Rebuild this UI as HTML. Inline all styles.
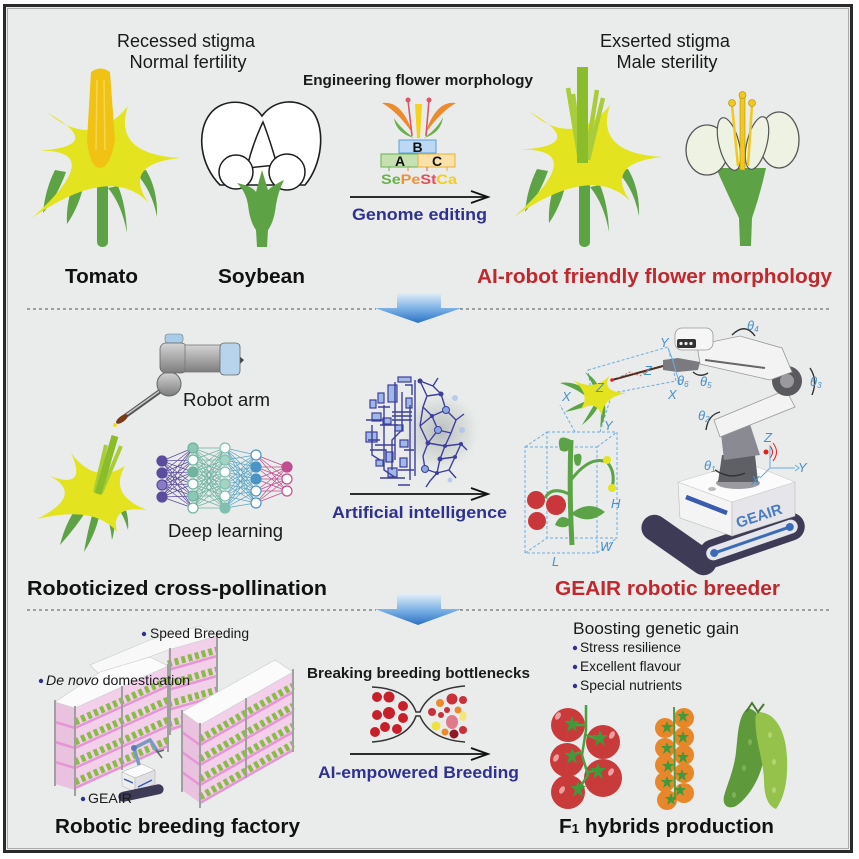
<!DOCTYPE html>
<html><head><meta charset="utf-8">
<style>html,body{margin:0;padding:0;background:#fff}svg{display:block}text{font-family:"Liberation Sans",Arial,sans-serif}</style>
</head><body>
<svg width="859" height="859" viewBox="0 0 859 859" xmlns="http://www.w3.org/2000/svg">
<defs>
<linearGradient id="ba" x1="0" y1="0" x2="0" y2="1"><stop offset="0" stop-color="#e2eef9"/><stop offset="0.5" stop-color="#7fb3e6"/><stop offset="1" stop-color="#2a72c4"/></linearGradient>
<linearGradient id="gr" x1="0" y1="0" x2="0" y2="1"><stop offset="0" stop-color="#d4d4d4"/><stop offset="0.5" stop-color="#a9a9a9"/><stop offset="1" stop-color="#7d7d7d"/></linearGradient>
<radialGradient id="blur"><stop offset="0" stop-color="#8c9696" stop-opacity="0.55"/><stop offset="0.7" stop-color="#b9c0c0" stop-opacity="0.3"/><stop offset="1" stop-color="#d0d6d6" stop-opacity="0"/></radialGradient>
<path id="st" d="M0,-8 L2,-3 L8,-3 L3,1 L5,8 L0,4 L-5,8 L-3,1 L-8,-3 L-2,-3 Z"/>
<path id="sts" d="M0,-6 L1.5,-2 L6,-2 L2.5,1 L4,6 L0,3 L-4,6 L-2.5,1 L-6,-2 L-1.5,-2 Z"/>
</defs>
<rect x="0" y="0" width="859" height="859" fill="#fff"/>
<rect x="4.5" y="5.5" width="847" height="846" fill="#e9ecea" stroke="#2a2a2a" stroke-width="3"/>
<rect x="7.5" y="8.5" width="841" height="840" fill="none" stroke="#9a9a9a" stroke-width="0.8"/>

<!-- ===== TOP SECTION ===== -->
<text x="186" y="47" font-size="18" text-anchor="middle" fill="#1a1a1a" textLength="138" lengthAdjust="spacingAndGlyphs">Recessed stigma</text>
<text x="188" y="68" font-size="18" text-anchor="middle" fill="#1a1a1a" textLength="117" lengthAdjust="spacingAndGlyphs">Normal fertility</text>
<text x="665" y="47" font-size="18" text-anchor="middle" fill="#1a1a1a" textLength="130" lengthAdjust="spacingAndGlyphs">Exserted stigma</text>
<text x="667" y="68" font-size="18" text-anchor="middle" fill="#1a1a1a" textLength="101" lengthAdjust="spacingAndGlyphs">Male sterility</text>
<text x="303" y="85" font-size="15" font-weight="bold" fill="#1a1a1a" textLength="230" lengthAdjust="spacingAndGlyphs">Engineering flower morphology</text>

<!-- left tomato flower -->
<g>
<g fill="#5ea246">
<path d="M55,170 Q45,190 43,213 Q58,195 66,172 Z"/>
<path d="M72,188 Q66,205 67,224 Q78,208 83,188 Z"/>
<path d="M108,188 Q122,205 127,233 Q126,205 118,186 Z"/>
<path d="M135,172 Q152,190 157,217 Q158,190 146,170 Z"/>
<rect x="97" y="180" width="11" height="67" rx="5"/>
</g>
<path d="M48,113 Q92,150 128,106 Q112,154 180,158 Q122,164 148,202 Q110,164 32,218 Q112,146 31,151 Q110,148 48,113 Z" fill="#e3e41f"/>
</g>
<path d="M91,72 Q100,65 110,72 L115,140 Q110,168 100,168 Q90,168 87,140 Z" fill="#f0c214"/>
<path d="M97,80 L96,150 M104,80 L105,150" stroke="#f6d550" stroke-width="1.5"/>

<!-- left soybean -->
<path d="M262,116 C250,98 222,98 210,114 C196,132 200,165 220,185 L305,185 C322,165 326,130 313,112 C300,98 275,98 262,116 Z" fill="#fff" stroke="#1e1e1e" stroke-width="1.6"/>
<path d="M263,122 Q252,145 247,168 L277,165 Q270,140 263,122 Z" fill="#fff" stroke="#1e1e1e" stroke-width="1.5"/>
<circle cx="236" cy="172" r="17" fill="#fff" stroke="#1e1e1e" stroke-width="1.5"/>
<circle cx="287" cy="172" r="18" fill="#fff" stroke="#1e1e1e" stroke-width="1.5"/>
<path d="M237,183 Q252,186 256,192 L262,170 L268,190 Q275,184 284,180 Q278,192 276,205 Q274,222 268,230 L267,247 L257,247 L256,230 Q250,222 248,205 Q246,192 237,183 Z" fill="#5ea246"/>

<text x="65" y="283" font-size="20" font-weight="bold" fill="#111" textLength="73" lengthAdjust="spacingAndGlyphs">Tomato</text>
<text x="218" y="283" font-size="20" font-weight="bold" fill="#111" textLength="87" lengthAdjust="spacingAndGlyphs">Soybean</text>

<!-- ABC model -->
<path d="M382,103 Q402,100 413,134 Q398,112 382,103 Z" fill="#ec8a2c"/>
<path d="M456,103 Q436,100 425,134 Q440,112 456,103 Z" fill="#ec8a2c"/>
<path d="M394,118 Q396,133 414,138 Q400,128 394,118 Z" fill="#6ab04c"/>
<path d="M443,117 Q441,133 424,138 Q438,128 443,117 Z" fill="#6ab04c"/>
<path d="M408,100 L412,136 M429,100 L426,136" stroke="#e05566" stroke-width="1.6"/>
<circle cx="408" cy="100" r="2.5" fill="#e05566"/><circle cx="429" cy="100" r="2.5" fill="#e05566"/>
<path d="M415,104 L422,104 L420,138 L417,138 Z" fill="#f5d21e"/>
<rect x="399" y="140" width="37" height="13" fill="#bcd8f2" stroke="#5aa0d8"/>
<rect x="381" y="154" width="37" height="13" fill="#c6e0b2" stroke="#6ab04c"/>
<rect x="418" y="154" width="37" height="13" fill="#f8e2aa" stroke="#e8b040"/>
<text x="417.5" y="152" font-size="14" font-weight="bold" text-anchor="middle" fill="#111">B</text>
<text x="400" y="166" font-size="14" font-weight="bold" text-anchor="middle" fill="#111">A</text>
<text x="437" y="166" font-size="14" font-weight="bold" text-anchor="middle" fill="#111">C</text>
<path d="M389,167 L389,171" stroke="#6ab04c"/><path d="M408,167 L408,171" stroke="#ec8a2c"/><path d="M427,167 L427,171" stroke="#e05566"/><path d="M447,167 L447,171" stroke="#e8b040"/>
<text x="381" y="184" font-size="14" font-weight="bold" textLength="76" lengthAdjust="spacingAndGlyphs"><tspan fill="#6ab04c">Se</tspan><tspan fill="#f0903a">Pe</tspan><tspan fill="#e84a5a">St</tspan><tspan fill="#f2cc20">Ca</tspan></text>
<path d="M350,197 L487,197" stroke="#111" stroke-width="1.8"/>
<path d="M471,191 L488,197 L471,203" fill="none" stroke="#111" stroke-width="1.8"/>
<text x="352" y="220" font-size="17" font-weight="bold" fill="#2e3192" textLength="135" lengthAdjust="spacingAndGlyphs">Genome editing</text>

<!-- right tomato flower -->
<g transform="translate(482,-1)">
<g fill="#5ea246">
<path d="M55,170 Q45,190 43,213 Q58,195 66,172 Z"/>
<path d="M72,188 Q66,205 67,224 Q78,208 83,188 Z"/>
<path d="M108,188 Q122,205 127,233 Q126,205 118,186 Z"/>
<path d="M135,172 Q152,190 157,217 Q158,190 146,170 Z"/>
<rect x="97" y="180" width="11" height="68" rx="5"/>
</g>
<path d="M48,113 Q92,150 128,106 Q112,154 180,158 Q122,164 148,202 Q110,164 32,218 Q112,146 31,151 Q110,148 48,113 Z" fill="#e3e41f"/>
</g>
<g stroke="#a9cd3a" stroke-width="4.5" stroke-linecap="butt">
<path d="M568,88 L580,160"/><path d="M573,94 L582,160"/><path d="M597,90 L586,160"/><path d="M603,98 L588,160"/>
</g>
<rect x="577" y="67" width="11" height="96" fill="#8bbd2a"/>

<!-- right soybean -->
<path d="M716,168 L766,168 Q760,195 752,218 L751,246 L740,246 L739,218 Q728,195 716,168 Z" fill="#5ea246"/>
<ellipse cx="707" cy="150" rx="21" ry="25" fill="#eef2e2" stroke="#555" stroke-width="1.3"/>
<ellipse cx="779" cy="140" rx="20" ry="28" fill="#eef2e2" stroke="#555" stroke-width="1.3"/>
<ellipse cx="729" cy="144" rx="10" ry="27" transform="rotate(-14 729 144)" fill="#eef2e2" stroke="#555" stroke-width="1.2"/>
<ellipse cx="757" cy="143" rx="10" ry="27" transform="rotate(14 757 143)" fill="#eef2e2" stroke="#555" stroke-width="1.2"/>
<path d="M738,166 L732,105 M748,166 L752,105" stroke="#f2c81e" stroke-width="2.5"/>
<circle cx="732" cy="103" r="3.5" fill="#f2c81e" stroke="#a08810" stroke-width="0.6"/>
<circle cx="752" cy="103" r="3.5" fill="#f2c81e" stroke="#a08810" stroke-width="0.6"/>
<rect x="740" y="96" width="5" height="74" fill="#f2c81e" stroke="#a08810" stroke-width="0.5"/>
<circle cx="742.5" cy="95" r="3.5" fill="#f2c81e" stroke="#a08810" stroke-width="0.6"/>

<text x="477" y="283" font-size="20" font-weight="bold" fill="#c1272d" textLength="355" lengthAdjust="spacingAndGlyphs">AI-robot friendly flower morphology</text>

<!-- separators & blue arrows -->
<path d="M27,309 L376,309 M460,309 L830,309" stroke="#555" stroke-width="1" stroke-dasharray="3 3"/>
<path d="M397,293 L441,293 L441,308 L462,308 L418,323 L375,308 L397,308 Z" fill="url(#ba)"/>
<path d="M27,610 L376,610 M460,610 L830,610" stroke="#555" stroke-width="1" stroke-dasharray="3 3"/>
<path d="M397,594 L441,594 L441,609 L462,609 L418,625 L375,609 L397,609 Z" fill="url(#ba)"/>

<!-- ===== MIDDLE SECTION ===== -->
<line x1="170" y1="384" x2="124" y2="417" stroke="#555" stroke-width="4.5" stroke-linecap="round"/>
<line x1="168" y1="385" x2="126" y2="415" stroke="#c8c8c8" stroke-width="1.5"/>
<ellipse cx="122" cy="419" rx="7" ry="3" transform="rotate(-36 122 419)" fill="#7a3a1a"/>
<circle cx="115" cy="425" r="2" fill="#f0e020"/>
<circle cx="169" cy="384" r="12" fill="url(#gr)" stroke="#666"/>
<rect x="165" y="334" width="18" height="9" rx="3" fill="#a9cce8" stroke="#777" stroke-width="0.6"/>
<rect x="160" y="343" width="27" height="30" rx="6" fill="url(#gr)" stroke="#666" stroke-width="0.8"/>
<rect x="185" y="345" width="37" height="27" fill="url(#gr)" stroke="#777" stroke-width="0.8"/>
<path d="M238,355 L244,360 L238,366 Z" fill="#444"/>
<rect x="220" y="343" width="20" height="32" rx="4" fill="#b8d4ec" stroke="#666" stroke-width="0.8"/>
<text x="183" y="406" font-size="18" fill="#1a1a1a" textLength="87" lengthAdjust="spacingAndGlyphs">Robot arm</text>

<!-- middle small flower -->
<g fill="#5ea246">
<path d="M82,500 Q66,520 60,545 Q78,525 90,505 Z"/>
<path d="M95,505 Q88,528 84,552 Q98,530 101,506 Z"/>
<path d="M102,502 Q110,520 112,540 Q118,520 110,500 Z"/>
<path d="M108,498 Q122,508 128,530 Q130,508 116,496 Z"/>
</g>
<path d="M71,453 Q95,485 125,466 Q108,495 147,510 Q110,505 117,532 Q95,505 37,519 Q85,495 50,476 Q88,490 71,453 Z" fill="#e3e41f"/>
<g stroke-linecap="butt">
<path d="M106,445 L95,492" stroke="#a9cd3a" stroke-width="4"/>
<path d="M121,446 L101,493" stroke="#a9cd3a" stroke-width="4"/>
<path d="M115,436 L98,494" stroke="#8bbd2a" stroke-width="7"/>
</g>

<!-- neural net -->
<g fill="none" stroke-width="0.7">
<path stroke="#5b4c9e" d="M162 461L193 448M162 461L193 460M162 461L193 472M162 461L193 484M162 461L193 496M162 461L193 508M162 473L193 448M162 473L193 460M162 473L193 472M162 473L193 484M162 473L193 496M162 473L193 508M162 485L193 448M162 485L193 460M162 485L193 472M162 485L193 484M162 485L193 496M162 485L193 508M162 497L193 448M162 497L193 460M162 497L193 472M162 497L193 484M162 497L193 496M162 497L193 508"/>
<path stroke="#6fb3a0" d="M193 448L225 448M193 448L225 460M193 448L225 472M193 448L225 484M193 448L225 496M193 448L225 508M193 460L225 448M193 460L225 460M193 460L225 472M193 460L225 484M193 460L225 496M193 460L225 508M193 472L225 448M193 472L225 460M193 472L225 472M193 472L225 484M193 472L225 496M193 472L225 508M193 484L225 448M193 484L225 460M193 484L225 472M193 484L225 484M193 484L225 496M193 484L225 508M193 496L225 448M193 496L225 460M193 496L225 472M193 496L225 484M193 496L225 496M193 496L225 508M193 508L225 448M193 508L225 460M193 508L225 472M193 508L225 484M193 508L225 496M193 508L225 508"/>
<path stroke="#5aa5c5" d="M225 448L256 455M225 448L256 467M225 448L256 479M225 448L256 491M225 448L256 503M225 460L256 455M225 460L256 467M225 460L256 479M225 460L256 491M225 460L256 503M225 472L256 455M225 472L256 467M225 472L256 479M225 472L256 491M225 472L256 503M225 484L256 455M225 484L256 467M225 484L256 479M225 484L256 491M225 484L256 503M225 496L256 455M225 496L256 467M225 496L256 479M225 496L256 491M225 496L256 503M225 508L256 455M225 508L256 467M225 508L256 479M225 508L256 491M225 508L256 503"/>
<path stroke="#c04f8f" d="M256 455L287 467M256 455L287 479M256 455L287 491M256 467L287 467M256 467L287 479M256 467L287 491M256 479L287 467M256 479L287 479M256 479L287 491M256 491L287 467M256 491L287 479M256 491L287 491M256 503L287 467M256 503L287 479M256 503L287 491"/>
</g>
<g stroke-width="1.2">
<g fill="#5b4c9e" stroke="#5b4c9e"><circle cx="162" cy="461" r="5"/><circle cx="162" cy="473" r="5"/><circle cx="162" cy="485" r="5" fill="#8a7cc4"/><circle cx="162" cy="497" r="5"/></g>
<g fill="#fff" stroke="#6fb3a0"><circle cx="193" cy="448" r="5" fill="#8cc8b5"/><circle cx="193" cy="460" r="5"/><circle cx="193" cy="472" r="5" fill="#6fb3a0"/><circle cx="193" cy="484" r="5"/><circle cx="193" cy="496" r="5" fill="#8cc8b5"/><circle cx="193" cy="508" r="5"/></g>
<g fill="#fff" stroke="#7fc0b0"><circle cx="225" cy="448" r="5"/><circle cx="225" cy="460" r="5" fill="#a3d3c3"/><circle cx="225" cy="472" r="5"/><circle cx="225" cy="484" r="5" fill="#a3d3c3"/><circle cx="225" cy="496" r="5"/><circle cx="225" cy="508" r="5" fill="#7fc0b0"/></g>
<g fill="#fff" stroke="#4a95c5"><circle cx="256" cy="455" r="5"/><circle cx="256" cy="467" r="5" fill="#4a95c5"/><circle cx="256" cy="479" r="5" fill="#4a95c5"/><circle cx="256" cy="491" r="5"/><circle cx="256" cy="503" r="5"/></g>
<g fill="#fff" stroke="#c04f8f"><circle cx="287" cy="467" r="5" fill="#c04f8f"/><circle cx="287" cy="479" r="5"/><circle cx="287" cy="491" r="5"/></g>
</g>
<text x="168" y="537" font-size="18" fill="#1a1a1a" textLength="115" lengthAdjust="spacingAndGlyphs">Deep learning</text>

<!-- AI brain -->
<circle cx="440" cy="432" r="40" fill="url(#blur)"/>
<g fill="#9fb8e6" stroke="#3d3f9c" stroke-width="1.2">
<rect x="398" y="377" width="13" height="5"/><rect x="388" y="385" width="9" height="17"/><rect x="378" y="393" width="6" height="10"/>
<rect x="372" y="413" width="9" height="8"/><rect x="366" y="432" width="11" height="10"/><rect x="383" y="418" width="8" height="6"/>
<rect x="400" y="440" width="8" height="7"/><rect x="386" y="452" width="7" height="10"/><rect x="400" y="458" width="7" height="9"/>
<rect x="388" y="468" width="9" height="9"/><rect x="376" y="460" width="7" height="6"/><rect x="406" y="398" width="6" height="10"/>
<rect x="370" y="400" width="6" height="8"/><rect x="395" y="425" width="8" height="6"/>
</g>
<g fill="none" stroke="#3d3f9c" stroke-width="1.4">
<path d="M395,382 L395,460 M402,392 L402,430 L392,440 L392,470 M380,425 L398,425 M370,450 L386,450 L386,462 M375,445 L395,445 M410,405 L410,480 M384,405 L384,470 L396,478 M392,412 L412,412 M392,416 L412,416 M392,420 L412,420 M368,440 L380,440 M405,385 L412,385 L412,395 M380,478 L405,478 M415,380 L415,476 M372,425 L372,455 L380,460 M398,485 L410,485 M366,420 L384,420 M378,407 L390,407 M404,450 L414,450 M398,470 L414,470"/>
<path d="M420 381L433 386M420 381L427 396M433 386L441 394M427 396L423 407M427 396L441 394M441 394L446 410M423 407L432 416M446 410L432 416M446 410L456 420M432 416L420 426M432 416L438 430M438 430L451 433M456 420L451 433M420 426L428 443M438 430L428 443M451 433L445 446M428 443L445 446M445 446L461 444M428 443L423 456M445 446L440 459M440 459L455 457M461 444L455 457M423 456L425 469M440 459L437 473M455 457L449 470M425 469L437 473M437 473L430 481M449 470L437 473M423 407L420 426M433 386L438 378M456 420L464 414M461 444L467 450M430 481L426 487M449 470L456 478"/>
</g>
<g fill="#3d3f9c"><circle cx="420" cy="381" r="2.5"/><circle cx="441" cy="394" r="2.5"/><circle cx="446" cy="410" r="3.5" fill="#8aa8e0" stroke="#3d3f9c"/><circle cx="432" cy="416" r="2"/><circle cx="438" cy="430" r="3.5" fill="#8aa8e0" stroke="#3d3f9c"/><circle cx="428" cy="443" r="2.5"/><circle cx="445" cy="446" r="2"/><circle cx="440" cy="459" r="2.5"/><circle cx="425" cy="469" r="3.5" fill="#8aa8e0" stroke="#3d3f9c"/><circle cx="437" cy="473" r="2"/><circle cx="455" cy="457" r="2"/><circle cx="461" cy="444" r="2"/></g>
<g fill="#a8c0ec" opacity="0.7"><circle cx="455" cy="398" r="3"/><circle cx="462" cy="430" r="3"/><circle cx="450" cy="480" r="2.5"/></g>

<path d="M350,494 L487,494" stroke="#111" stroke-width="1.8"/>
<path d="M471,488 L488,494 L471,500" fill="none" stroke="#111" stroke-width="1.8"/>
<text x="332" y="518" font-size="17" font-weight="bold" fill="#2e3192" textLength="175" lengthAdjust="spacingAndGlyphs">Artificial intelligence</text>

<!-- GEAIR robot: plant + dashed cube -->
<g fill="none" stroke="#6aaee0" stroke-width="1" stroke-dasharray="3 2">
<path d="M525,447 L597,447 L597,553 L525,553 Z"/>
<path d="M547,432 L617,432 L617,538 L547,538 Z"/>
<path d="M525,447 L547,432 M597,447 L617,432 M597,553 L617,538 M525,553 L547,538"/>
<path d="M575,432 L560,405 M600,432 L610,400 M588,370 L668,347 L676,381 L592,397 Z"/>
</g>
<path d="M572,545 Q569,490 571,440" stroke="#5ba346" stroke-width="5" fill="none"/>
<path d="M571,480 Q590,455 607,462 Q616,472 612,488" stroke="#5ba346" stroke-width="3" fill="none"/>
<path d="M571,495 Q552,485 545,498" stroke="#5ba346" stroke-width="3" fill="none"/>
<g fill="#5ba346">
<path d="M571,440 Q555,432 560,450 Q568,455 571,445 Z"/>
<path d="M574,455 Q585,450 580,465 Q575,468 574,460 Z"/>
<path d="M573,512 Q590,500 605,512 Q590,525 573,515 Z"/>
<path d="M570,520 Q560,512 555,525 Q565,530 570,524 Z"/>
</g>
<g fill="#e3e41f"><circle cx="607" cy="460" r="4"/><circle cx="612" cy="488" r="4"/></g>
<g fill="#c9373a"><circle cx="536" cy="500" r="9"/><circle cx="556" cy="505" r="10"/><circle cx="537" cy="521" r="9"/></g>
<g fill="#5ba346">
<path d="M596,395 Q575,380 560,383 Q580,390 590,400 Z"/>
<path d="M594,398 Q575,405 565,412 Q585,408 596,402 Z"/>
<path d="M597,400 Q588,415 582,425 Q596,414 600,402 Z"/>
<path d="M600,400 Q602,415 600,428 Q608,414 604,400 Z"/>
<path d="M596,392 Q590,378 585,372 Q598,380 600,392 Z"/>
</g>
<path d="M573,380 Q595,392 610,375 Q600,392 626,393 Q602,398 602,416 Q596,399 580,410 Q592,395 573,380 Z" fill="#e3e41f"/>
<!-- tracks -->
<rect x="636" y="532" width="86" height="26" rx="13" fill="#3d3b55" transform="rotate(35 679 545)"/>
<g transform="rotate(-19 752 540)">
<rect x="697" y="526" width="110" height="28" rx="14" fill="#3d3b55"/>
<rect x="704" y="533" width="96" height="14" rx="7" fill="#e4e6ec"/>
<path d="M712,540 L792,540" stroke="#3a6ab8" stroke-width="3"/>
<circle cx="712" cy="540" r="4" fill="#3a6ab8"/><circle cx="792" cy="540" r="4" fill="#3a6ab8"/>
</g>
<!-- box -->
<polygon points="678,482 732,502 732,536 680,518" fill="#f4f4f4" stroke="#bbb" stroke-width="0.6"/>
<polygon points="732,502 795,482 795,516 732,536" fill="#e6e6ea" stroke="#bbb" stroke-width="0.6"/>
<polygon points="678,482 745,462 795,482 732,502" fill="#fbfbfb" stroke="#ccc" stroke-width="0.6"/>
<path d="M686,497 L727,513" stroke="#3a5cae" stroke-width="4.5"/>
<ellipse cx="712" cy="489" rx="4" ry="2" fill="#bbb"/>
<text x="738" y="528" font-size="15" font-weight="bold" fill="#4a7cc0" transform="rotate(-18 738 528)">GEAIR</text>
<!-- arm -->
<ellipse cx="738" cy="483" rx="22" ry="6" fill="#9a9aa0"/>
<polygon points="722,455 755,455 758,482 718,482" fill="#5f5f66"/>
<polygon points="720,425 748,418 760,455 724,460" fill="#8a8a92"/>
<polygon points="714,420 786,390 795,407 720,437" fill="#f3f3f3" stroke="#999" stroke-width="0.8"/>
<circle cx="787" cy="381" r="15" fill="#5a5a5e"/><circle cx="787" cy="381" r="7" fill="#9a9a9e"/>
<polygon points="697,345 740,336 782,348 792,372 770,380 700,364" fill="#f3f3f3" stroke="#999" stroke-width="0.8"/>
<path d="M705,360 L765,368" stroke="#666" stroke-width="2"/>
<rect x="675" y="328" width="38" height="22" rx="7" fill="#f6f6f6" stroke="#999" stroke-width="0.8"/>
<rect x="677" y="339" width="19" height="9" rx="2" fill="#333"/>
<g fill="#eee"><circle cx="681" cy="343.5" r="1.6"/><circle cx="686" cy="343.5" r="1.6"/><circle cx="691" cy="343.5" r="1.6"/></g>
<polygon points="663,360 678,358 700,362 698,370 677,372 663,370" fill="#7a7a80"/>
<path d="M663,366 L612,380" stroke="#4a3020" stroke-width="2"/>
<path d="M618,378 L630,372 L640,376 L650,368" stroke="#e04040" stroke-width="0.8" stroke-dasharray="2 2" fill="none"/>
<circle cx="612" cy="380" r="1.8" fill="#e02020"/>
<circle cx="766" cy="452" r="2.5" fill="#e02020"/>
<path d="M770,446 Q775,452 770,458 M773,443 Q780,452 773,461" stroke="#e02020" stroke-width="1" fill="none"/>
<g stroke="#6aaee0" stroke-width="1" fill="none">
<path d="M770,468 L770,445 M770,468 L795,468 M770,468 L760,478 M795,465 L799,468 L795,471"/>
<path d="M672,358 L668,348 M672,358 L680,385"/>
</g>
<g stroke="#333" stroke-width="1.4" fill="none">
<path d="M732,335 Q745,322 755,336"/><path d="M810,368 Q818,380 812,395"/><path d="M706,430 Q708,415 720,412"/><path d="M715,470 Q730,480 745,473"/><path d="M693,372 Q700,378 708,373"/>
</g>
<g font-size="13" font-style="italic" fill="#4a90c8">
<text x="660" y="347">Y</text><text x="644" y="375">Z</text><text x="668" y="399">X</text>
<text x="677" y="385">θ<tspan font-size="8" dy="2">6</tspan></text><text x="700" y="386">θ<tspan font-size="8" dy="2">5</tspan></text>
<text x="747" y="330">θ<tspan font-size="8" dy="2">4</tspan></text><text x="810" y="386">θ<tspan font-size="8" dy="2">3</tspan></text>
<text x="698" y="420">θ<tspan font-size="8" dy="2">2</tspan></text><text x="704" y="470">θ<tspan font-size="8" dy="2">1</tspan></text>
<text x="764" y="442">Z</text><text x="798" y="472">Y</text><text x="751" y="485">X</text>
<text x="562" y="401">X</text><text x="596" y="392">Z</text><text x="604" y="430">Y</text>
<text x="611" y="508">H</text><text x="600" y="551">W</text><text x="552" y="566">L</text>
</g>

<text x="27" y="595" font-size="20" font-weight="bold" fill="#111" textLength="300" lengthAdjust="spacingAndGlyphs">Roboticized cross-pollination</text>
<text x="555" y="595" font-size="20" font-weight="bold" fill="#c1272d" textLength="225" lengthAdjust="spacingAndGlyphs">GEAIR robotic breeder</text>

<!-- ===== BOTTOM SECTION ===== -->
<polygon points="168,650 217,636 217,716 168,733" fill="#f2d0ea"/>
<g stroke="#e596d4" stroke-width="2.5"><path d="M168,670 L217,656 M168,690 L217,676 M168,710 L217,696 M168,730 L217,715"/></g>
<g stroke="#8cba4a" stroke-width="7" stroke-dasharray="4 3"><path d="M168,664 L217,650 M168,684 L217,670 M168,704 L217,690 M168,724 L217,709"/></g>
<polygon points="100,675 168,650 217,636 200,626 150,640 90,665" fill="#f8f8f8" stroke="#ccc" stroke-width="0.6"/>
<path d="M217,632 L217,720 M170,648 L170,735" stroke="#a0a0a0" stroke-width="2"/>
<polygon points="55,702 75,708 75,790 55,784" fill="#e9c2e0"/>
<polygon points="75,708 168,666 168,748 75,790" fill="#f2d0ea"/>
<g stroke="#e596d4" stroke-width="2.5"><path d="M75,728 L168,686 M75,748 L168,706 M75,768 L168,726 M75,788 L168,746 M55,722 L75,728 M55,742 L75,748 M55,762 L75,768"/></g>
<g stroke="#8cba4a" stroke-width="7" stroke-dasharray="4 3"><path d="M75,722 L168,680 M75,742 L168,700 M75,762 L168,720 M75,782 L168,740"/></g>
<polygon points="55,702 75,708 168,666 150,657 100,672" fill="#fbfbfb" stroke="#ccc" stroke-width="0.6"/>
<path d="M55,700 L55,786 M75,706 L75,796 M122,686 L122,770 M168,664 L168,752" stroke="#a0a0a0" stroke-width="2"/>
<path d="M140,768 L134,748 L150,740 L158,752" stroke="#7a9ac0" stroke-width="3.5" fill="none"/>
<circle cx="134" cy="748" r="3" fill="#5a7ab0"/>
<path d="M156,750 L162,758 M158,752 L164,750" stroke="#666" stroke-width="1.5"/>
<polygon points="122,772 142,764 155,770 135,778" fill="#fbfbfb" stroke="#aaa" stroke-width="0.5"/>
<polygon points="122,772 135,778 135,792 122,786" fill="#eee" stroke="#aaa" stroke-width="0.5"/>
<polygon points="135,778 155,770 155,784 135,792" fill="#e0e0e4" stroke="#aaa" stroke-width="0.5"/>
<path d="M124,779 L133,783 M138,787 L152,780" stroke="#3a5cae" stroke-width="1.5"/>
<rect x="118" y="788" width="46" height="10" rx="5" fill="#3d3b55" transform="rotate(-12 141 793)"/>
<polygon points="182,712 200,725 200,803 182,790" fill="#e9c2e0"/>
<polygon points="200,725 293,672 293,750 200,803" fill="#f2d0ea"/>
<g stroke="#e596d4" stroke-width="2.5"><path d="M200,745 L293,692 M200,765 L293,712 M200,785 L293,732 M200,803 L293,750 M182,732 L200,745 M182,752 L200,765 M182,772 L200,785"/></g>
<g stroke="#8cba4a" stroke-width="7" stroke-dasharray="4 3"><path d="M200,739 L293,686 M200,759 L293,706 M200,779 L293,726 M200,797 L293,744"/></g>
<polygon points="182,712 200,725 293,672 275,660" fill="#fbfbfb" stroke="#ccc" stroke-width="0.6"/>
<path d="M182,710 L182,792 M200,723 L200,808 M246,698 L246,778 M293,669 L293,752" stroke="#a0a0a0" stroke-width="2"/>

<g fill="#2e3192"><circle cx="144" cy="634" r="2.2"/><circle cx="41" cy="681" r="2.2"/><circle cx="83" cy="799" r="2.2"/>
<circle cx="575" cy="648" r="2.2"/><circle cx="575" cy="667" r="2.2"/><circle cx="575" cy="686" r="2.2"/></g>
<text x="150" y="638" font-size="14" fill="#1a1a1a" textLength="99" lengthAdjust="spacingAndGlyphs">Speed Breeding</text>
<text x="46" y="685" font-size="14" fill="#1a1a1a" textLength="144" lengthAdjust="spacingAndGlyphs"><tspan font-style="italic">De novo</tspan> domestication</text>
<text x="88" y="803" font-size="14" fill="#1a1a1a" textLength="44" lengthAdjust="spacingAndGlyphs">GEAIR</text>
<text x="55" y="833" font-size="20" font-weight="bold" fill="#111" textLength="245" lengthAdjust="spacingAndGlyphs">Robotic breeding factory</text>

<text x="307" y="678" font-size="15" font-weight="bold" fill="#1a1a1a" textLength="223" lengthAdjust="spacingAndGlyphs">Breaking breeding bottlenecks</text>
<g fill="#c8202a"><circle cx="377" cy="697" r="5"/><circle cx="389" cy="697" r="5.5"/><circle cx="403" cy="706" r="5"/><circle cx="377" cy="715" r="5"/><circle cx="389" cy="713" r="6"/><circle cx="403" cy="718" r="5"/><circle cx="375" cy="732" r="5"/><circle cx="385" cy="727" r="5"/><circle cx="397" cy="729" r="5"/></g>
<g><circle cx="440" cy="703" r="4" fill="#ec8a2c"/><circle cx="452" cy="699" r="5.5" fill="#c8303a"/><circle cx="463" cy="700" r="4" fill="#c8303a"/><circle cx="447" cy="710" r="3" fill="#c8303a"/><circle cx="458" cy="710" r="3.5" fill="#ec8a2c"/><circle cx="432" cy="712" r="4" fill="#c8303a"/><circle cx="441" cy="715" r="3" fill="#c8303a"/><ellipse cx="452" cy="722" rx="6" ry="7" fill="#e07a8a"/><ellipse cx="463" cy="716" rx="3.5" ry="5" fill="#f5e57a"/><circle cx="436" cy="726" r="4.5" fill="#f0e040"/><circle cx="445" cy="732" r="3.5" fill="#ec8a2c"/><circle cx="454" cy="734" r="4.5" fill="#8a1a2a"/><circle cx="463" cy="730" r="4" fill="#c8303a"/></g>
<path d="M372,687 C400,688 412,700 416,712 L420,712 C425,700 437,688 465,686 M372,742 C400,740 412,728 416,716 L420,716 C425,728 437,740 465,742" stroke="#333" stroke-width="1.5" fill="none"/>
<path d="M350,754 L487,754" stroke="#111" stroke-width="1.8"/>
<path d="M471,748 L488,754 L471,760" fill="none" stroke="#111" stroke-width="1.8"/>
<text x="318" y="778" font-size="17" font-weight="bold" fill="#2e3192" textLength="201" lengthAdjust="spacingAndGlyphs">AI-empowered Breeding</text>

<text x="573" y="634" font-size="17" fill="#1a1a1a" textLength="166" lengthAdjust="spacingAndGlyphs">Boosting genetic gain</text>
<text x="580" y="652" font-size="14" fill="#1a1a1a" textLength="101" lengthAdjust="spacingAndGlyphs">Stress resilience</text>
<text x="580" y="671" font-size="14" fill="#1a1a1a" textLength="101" lengthAdjust="spacingAndGlyphs">Excellent flavour</text>
<text x="580" y="690" font-size="14" fill="#1a1a1a" textLength="102" lengthAdjust="spacingAndGlyphs">Special nutrients</text>

<g fill="#c93a3a"><circle cx="568" cy="725" r="17"/><circle cx="603" cy="742" r="17"/><circle cx="567" cy="760" r="17"/><circle cx="603" cy="778" r="19"/><circle cx="568" cy="792" r="17"/></g>
<g fill="#eea0a0"><ellipse cx="558" cy="716" rx="2.5" ry="4" transform="rotate(30 558 716)"/><ellipse cx="612" cy="735" rx="2.5" ry="4" transform="rotate(30 612 735)"/><ellipse cx="556" cy="758" rx="2.5" ry="4" transform="rotate(30 556 758)"/><ellipse cx="611" cy="772" rx="2.5" ry="4" transform="rotate(30 611 772)"/><ellipse cx="562" cy="790" rx="2.5" ry="4" transform="rotate(30 562 790)"/></g>
<path d="M586,705 L586,730 L582,755 L588,775 L578,790 M586,725 L570,725 M586,735 L600,740 M583,752 L570,755 M588,772 L600,770" stroke="#4aa040" stroke-width="2.5" fill="none"/>
<g fill="#3e9a3a"><use href="#st" x="572" y="724"/><use href="#st" x="600" y="738"/><use href="#st" x="572" y="756"/><use href="#st" x="598" y="771"/><use href="#st" x="578" y="789"/></g>
<g fill="#e8872a"><circle cx="684" cy="718" r="10"/><circle cx="684" cy="737" r="10"/><circle cx="684" cy="755" r="10"/><circle cx="684" cy="773" r="10"/><circle cx="684" cy="793" r="10"/><circle cx="665" cy="728" r="10"/><circle cx="665" cy="748" r="10"/><circle cx="665" cy="765" r="10"/><circle cx="665" cy="782" r="10"/><circle cx="667" cy="800" r="10"/></g>
<path d="M674,707 L675,800" stroke="#4aa040" stroke-width="2" fill="none"/>
<g fill="#3e9a3a"><use href="#sts" x="683" y="716"/><use href="#sts" x="667" y="727"/><use href="#sts" x="683" y="737"/><use href="#sts" x="667" y="748"/><use href="#sts" x="683" y="757"/><use href="#sts" x="668" y="766"/><use href="#sts" x="682" y="775"/><use href="#sts" x="667" y="782"/><use href="#sts" x="680" y="790"/><use href="#sts" x="671" y="799"/></g>
<!-- pods (wider) -->
<path d="M748,708 C764,712 768,735 764,758 C760,780 748,798 736,806 C728,810 722,805 724,796 C728,782 734,770 736,752 C738,735 738,715 748,708 Z" fill="#5e9a3c"/>
<path d="M758,712 C776,712 786,732 787,758 C788,782 784,798 776,809 C768,806 764,796 764,780 C763,760 757,745 756,730 C755,720 755,714 758,712 Z" fill="#94c24a"/>
<g fill="#86b85a" opacity="0.8"><ellipse cx="750" cy="742" rx="2" ry="3"/><ellipse cx="744" cy="768" rx="2" ry="3"/><ellipse cx="734" cy="795" rx="2" ry="3"/></g>
<g fill="#b5d87a" opacity="0.9"><ellipse cx="770" cy="735" rx="2" ry="3"/><ellipse cx="774" cy="762" rx="2" ry="3"/><ellipse cx="774" cy="790" rx="2" ry="3"/></g>
<path d="M746,712 L752,703 L758,712 L764,704" stroke="#4a7a30" stroke-width="2" fill="none"/>
<text x="559" y="833" font-size="20" font-weight="bold" fill="#111" textLength="215" lengthAdjust="spacingAndGlyphs">F<tspan font-size="13">1</tspan> hybrids production</text>
</svg>
</body></html>
